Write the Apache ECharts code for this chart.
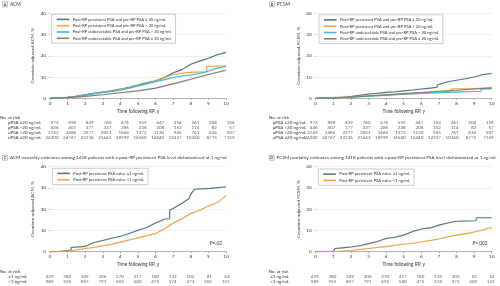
<!DOCTYPE html>
<html><head><meta charset="utf-8">
<script src="https://cdn.jsdelivr.net/npm/echarts@6/dist/echarts.min.js"></script>
<style>html,body{margin:0;padding:0;background:#fff}#c{width:500px;height:286px}</style>
</head><body><div id="c"></div>
<script>
// ---------- data ----------
const years = [0,1,2,3,4,5,6,7,8,9,10];
const namesAB = [
  'Post-RP persistent PSA and pre-RP PSA ≤ 20 ng/mL',
  'Post-RP persistent PSA and pre-RP PSA > 20 ng/mL',
  'Post-RP undetectable PSA and pre-RP PSA > 20 ng/mL',
  'Post-RP undetectable PSA and pre-RP PSA ≤ 20 ng/mL'
];
const namesCD = ['Post-RP persistent PSA value ≥1 ng/mL','Post-RP persistent PSA value <1 ng/mL'];

// Panel A: ACM (%)
const acmPersLow = [[0,0],[0.5,0.2],[1,0.5],[1.5,1.0],[2,1.6],[2.5,2.3],[3,3.0],[3.5,3.5],[4,4.3],[4.5,5.2],[5,6.2],[5.5,7.3],[6,8.2],[6.5,9.8],[7,12.0],[7.5,13.5],[8,16.0],[8.5,17.5],[9,18.8],[9.5,20.5],[10,21.6]];
const acmPersHigh = [[0,0],[0.5,0.2],[1,0.5],[1.5,1.0],[2,1.5],[2.5,2.2],[3,2.8],[3.5,3.3],[4,4.2],[4.5,5.0],[5,6.0],[5.5,7.0],[6,8.3],[6.5,9.8],[7,11.2],[7.5,11.8],[8,12.2],[8.9,12.5],[8.9,15.0],[10,15.3]];
const acmUndHigh = [[0,0],[0.5,0.2],[1,0.5],[1.5,1.0],[2,1.6],[2.5,2.2],[3,2.7],[3.5,3.2],[4,3.8],[4.5,4.8],[5,5.8],[5.5,6.8],[6,7.8],[6.5,8.8],[7,9.8],[7.5,10.5],[8,11.0],[8.5,11.7],[9,12.8],[9.5,14.2],[10,15.0]];
const acmUndLow = [[0,0],[1,0.3],[2,0.9],[3,1.7],[4,2.6],[5,3.5],[6,4.8],[7,6.8],[8,9.0],[9,11.2],[10,13.2]];

// Panel B: PCSM (%)
const pcsmPersLow = [[0,0],[1,0.2],[1.5,0.4],[2,0.8],[2.5,1.4],[3,2.0],[3.5,2.4],[4,2.8],[4.5,3.1],[5,3.5],[5.5,3.9],[6,4.4],[6.5,4.8],[6.9,5.2],[6.9,6.3],[7.3,7.3],[7.5,7.8],[8,8.5],[8.5,9.2],[9,10.0],[9.5,11.2],[10,11.7]];
const pcsmPersHigh = [[0,0],[1,0.3],[2,0.6],[3,1.0],[4,1.5],[5,2.0],[6,2.5],[7,3.0],[7.7,3.4],[7.7,4.4],[8,4.5],[9,4.6],[10,4.8]];
const pcsmUndHigh = [[0,0],[1,0.2],[2,0.5],[3,1.0],[4,1.4],[5,1.9],[6,2.3],[7,2.6],[8,2.9],[9,3.2],[9.4,3.3],[9.4,4.3],[10,4.5]];
const pcsmUndLow = [[0,0],[1,0.2],[2,0.6],[3,1.2],[4,1.7],[5,2.2],[6,2.7],[7,3.3],[8,3.8],[9,4.4],[10,4.9]];

// Panel C: ACM by post-RP PSA
const acmGe1 = [[0,0],[0.5,0.1],[1,0.5],[1.2,0.8],[1.2,2.0],[2,2.5],[2.5,4.3],[3,5.3],[3.5,6.3],[4,7.3],[4.5,8.6],[5,10.1],[5.5,11.4],[6,13.5],[6.5,15.3],[6.8,15.5],[6.8,19.5],[7,20.3],[7.5,22.8],[7.9,25.0],[8.0,27.0],[8.2,29.4],[9.1,29.8],[9.2,30.5],[10,30.6]];
const acmLt1 = [[0,0],[0.5,0.1],[1,0.3],[1.5,0.8],[2,1.5],[2.5,2.0],[3,2.8],[3.5,3.5],[4,4.5],[4.5,5.5],[5,6.5],[5.5,7.5],[6,8.5],[6.5,10.8],[7,13.5],[7.5,15.5],[8,18.0],[8.5,19.5],[9,21.5],[9.5,23.0],[9.8,25.0],[10,26.5]];

// Panel D: PCSM by post-RP PSA
const pcsmGe1 = [[0,0],[1,0.2],[1.1,0.4],[1.1,1.5],[1.5,1.8],[2,2.2],[2.5,2.8],[3,3.8],[3.5,4.8],[4,6.2],[4.5,6.8],[5,7.8],[5.5,9.5],[6,10.7],[6.5,11.2],[7,12.5],[7.5,13.5],[8,14.3],[9.1,14.6],[9.15,16.0],[10,16.0]];
const pcsmLt1 = [[0,0],[1,0.1],[1.5,0.3],[2,0.6],[2.5,1.0],[3,1.5],[3.5,2.0],[4,2.4],[4.5,3.0],[5,3.5],[5.5,4.0],[6,4.6],[6.5,5.3],[7,6.0],[7.5,7.0],[8,7.8],[8.5,8.4],[9,9.3],[9.5,10.2],[9.8,11.0],[10,11.2]];

// Numbers at risk
const riskRowsAB = ['pPSA ≤20 ng/mL','pPSA >20 ng/mL','uPSA >20 ng/mL','uPSA ≤20 ng/mL'];
const riskPersLow = [972,898,829,760,676,559,447,354,261,204,156];
const riskPersHigh = [446,407,377,337,286,238,208,152,114,82,57];
const riskUndHigh = [2743,2486,2277,2051,1664,1372,1130,945,761,634,507];
const riskUndLow = [26300,24767,23136,21643,18999,16580,14440,12337,10360,8775,7159];
const riskRowsCD = ['≥1 ng/mL','<1 ng/mL'];
const riskGe1 = [429,380,349,306,270,217,180,132,102,81,62];
const riskLt1 = [989,925,857,791,692,580,475,374,273,205,151];

// ---------- styling ----------
const FONT = 'Lato';
const C_SLATE = '#527786', C_ORANGE = '#f5a53f', C_CYAN = '#36bdec', C_BROWN = '#8b7c72';
const TXT = '#333';

const plotGrids = [
  {left:50, top:13.3, width:176, height:85},
  {left:315.7, top:13.3, width:176, height:85},
  {left:50, top:166.7, width:176, height:85},
  {left:315.7, top:166.7, width:176, height:85}
];
const tableGrids = [
  {left:50, top:119.8, width:176, height:20},
  {left:315.7, top:119.8, width:176, height:20},
  {left:50, top:273.8, width:176, height:10.6},
  {left:315.7, top:273.8, width:176, height:10.6}
];
const yNames = ['Covariate-adjusted ACM, %','Covariate-adjusted PCSM, %','Covariate-adjusted ACM, %','Covariate-adjusted PCSM, %'];
const tableMargins = [42, 43, 41.7, 45.5];
const tableOffsets = [8.5, 2, 3.5, 3];

const grid = [], xAxis = [], yAxis = [], series = [];
plotGrids.forEach((g, i) => {
  grid.push(Object.assign({containLabel:false}, g));
  xAxis.push({type:'value', gridIndex:i, min:0, max:10, interval:1,
    name:'Time following RP, y', nameLocation:'middle', nameGap:10.5,
    nameTextStyle:{fontFamily:FONT, fontSize:4.8, color:TXT},
    axisLine:{lineStyle:{color:'#888', width:0.6}},
    axisTick:{length:1.8, lineStyle:{color:'#888', width:0.6}},
    axisLabel:{fontFamily:FONT, fontSize:4.6, color:TXT, margin:2.5},
    splitLine:{show:false}});
  yAxis.push({type:'value', gridIndex:i, min:0, max:40, interval:10,
    name:yNames[i], nameLocation:'middle', nameGap:14.5, nameRotate:90,
    nameTextStyle:{fontFamily:FONT, fontSize:4.6, color:TXT},
    axisLine:{show:false},
    axisTick:{show:true, length:1.8, lineStyle:{color:'#aaa', width:0.5}},
    axisLabel:{fontFamily:FONT, fontSize:4.6, color:TXT, margin:4},
    splitLine:{lineStyle:{color:'#e4e4e4', width:0.6}}});
});
tableGrids.forEach((g, j) => {
  const i = 4 + j;
  grid.push(Object.assign({containLabel:false}, g));
  xAxis.push({type:'value', gridIndex:i, min:0, max:10, show:false});
  yAxis.push({type:'category', gridIndex:i, inverse:true,
    data: j < 2 ? riskRowsAB : riskRowsCD,
    axisLine:{show:false}, axisTick:{show:false}, splitLine:{show:false},
    axisLabel:{interval:0, hideOverlap:false, fontFamily:FONT, fontSize:4.5, color:TXT, align:'left', margin:tableMargins[j]}});
});

function line(name, data, color, gi) {
  return {type:'line', name, data, xAxisIndex:gi, yAxisIndex:gi, symbol:'none', silent:true,
    color, lineStyle:{color, width:1.1, shadowColor:'rgba(0,0,0,0.12)', shadowBlur:1.2}};
}
series.push(line(namesAB[0], acmPersLow, C_SLATE, 0));
series.push(line(namesAB[1], acmPersHigh, C_ORANGE, 0));
series.push(line(namesAB[2], acmUndHigh, C_CYAN, 0));
series.push(line(namesAB[3], acmUndLow, C_BROWN, 0));
series.push(line(namesAB[0], pcsmPersLow, C_SLATE, 1));
series.push(line(namesAB[1], pcsmPersHigh, C_ORANGE, 1));
series.push(line(namesAB[2], pcsmUndHigh, C_CYAN, 1));
series.push(line(namesAB[3], pcsmUndLow, C_BROWN, 1));
series.push(line(namesCD[0], acmGe1, C_SLATE, 2));
series.push(line(namesCD[1], acmLt1, C_ORANGE, 2));
series.push(line(namesCD[0], pcsmGe1, C_SLATE, 3));
series.push(line(namesCD[1], pcsmLt1, C_ORANGE, 3));

function riskSeries(rows, gi, off) {
  const data = [];
  rows.forEach((r, ri) => r.forEach((v, k) => data.push([years[k], ri, v])));
  return {type:'scatter', xAxisIndex:gi, yAxisIndex:gi, symbolSize:0, silent:true, data,
    label:{show:true, position:'inside', align:'right', offset:[off,0],
      formatter:p => String(p.value[2]), fontFamily:FONT, fontSize:4.5, color:TXT}};
}
series.push(riskSeries([riskPersLow, riskPersHigh, riskUndHigh, riskUndLow], 4, tableOffsets[0]));
series.push(riskSeries([riskPersLow, riskPersHigh, riskUndHigh, riskUndLow], 5, tableOffsets[1]));
series.push(riskSeries([riskGe1, riskLt1], 6, tableOffsets[2]));
series.push(riskSeries([riskGe1, riskLt1], 7, tableOffsets[3]));

function legend(left, top, data) {
  return {left, top, orient:'vertical', data, selectedMode:false,
    icon:'rect', itemWidth:12.5, itemHeight:1.6, itemGap:1.3,
    padding:[2.6,4,2.4,5], borderColor:'#aaa', borderWidth:0.6, backgroundColor:'#fff',
    textStyle:{fontFamily:FONT, fontSize:4.1, color:TXT, lineHeight:5, padding:[0,0,0,-1.5]}};
}

function panelLabel(x, y, letter, text, size) {
  return [
    {type:'rect', shape:{x:x, y:y, width:4.8, height:5}, style:{fill:'#fff', stroke:'#777', lineWidth:0.5}},
    {type:'text', x:x+2.4, y:y+2.6, style:{text:letter, font:'bold 3.6px '+FONT, fill:'#333', align:'center', verticalAlign:'middle'}},
    {type:'text', x:x+7.3, y:y+2.6, style:{text, font:(size||4.8)+'px '+FONT, fill:TXT, align:'left', verticalAlign:'middle'}}
  ];
}
function txt(x, y, text, size) {
  return {type:'text', x, y, style:{text, font:size+'px '+FONT, fill:TXT, align:'left', verticalAlign:'middle'}};
}
function pval(x, y, v) {
  return {type:'text', x, y, style:{rich:{i:{fontStyle:'italic', fontFamily:FONT, fontSize:4.8, fill:TXT}, n:{fontFamily:FONT, fontSize:4.8, fill:TXT}}, text:'{i|P}{n|=' + v + '}', align:'right', verticalAlign:'middle'}};
}

const graphic = [].concat(
  panelLabel(2.6, 1.8, 'A', 'ACM'),
  panelLabel(269.5, 1.8, 'B', 'PCSM'),
  panelLabel(2.6, 155.2, 'C', 'ACM mortality estimates among 1418 patients with a post-RP persistent PSA level dichotomized at 1 ng/mL', 4.6),
  panelLabel(269.3, 155.2, 'D', 'PCSM mortality estimates among 1418 patients with a post-RP persistent PSA level dichotomized at 1 ng/mL', 4.6),
  [txt(0, 117.3, 'No. at risk', 4.5), txt(269, 117.3, 'No. at risk', 4.5),
   txt(0, 271.5, 'No. at risk', 4.5), txt(268.5, 271.5, 'No. at risk', 4.5),
   pval(222, 243.3, '.02'), pval(487.5, 243.3, '.002')]
);

const option = {
  animation:false,
  backgroundColor:'#fff',
  textStyle:{fontFamily:FONT},
  grid, xAxis, yAxis, series,
  legend:[
    legend(51.7, 14.3, namesAB),
    legend(319, 14.8, namesAB),
    legend(52.3, 168.3, namesCD),
    legend(318.3, 169, namesCD)
  ],
  graphic
};
const chart = echarts.init(document.getElementById('c'), null, {renderer:'canvas'});
chart.setOption(option);
</script></body></html>
